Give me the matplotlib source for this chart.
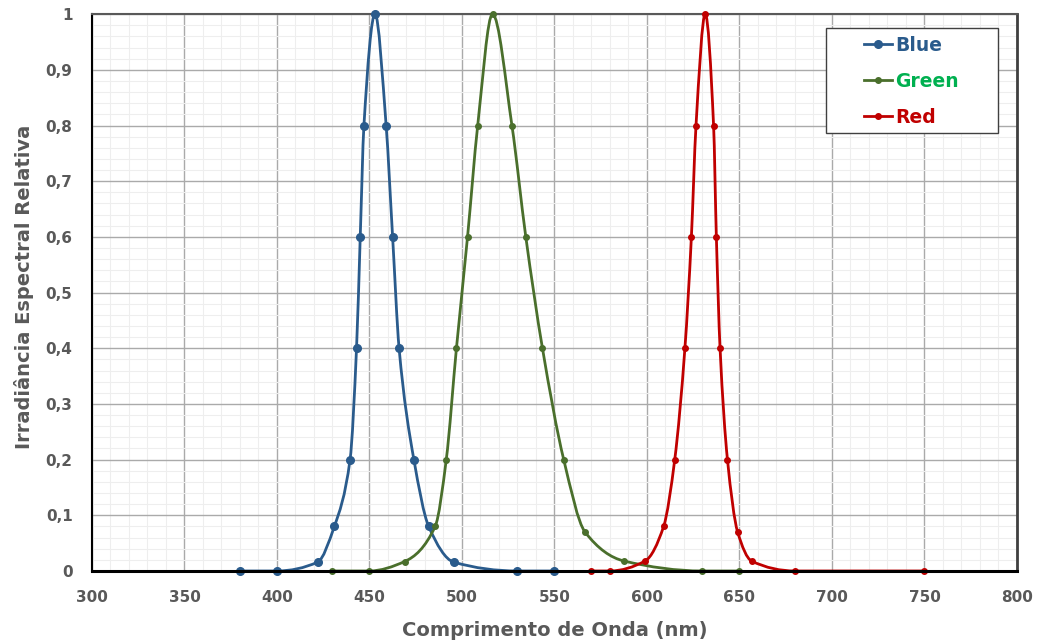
import numpy as np
import matplotlib
matplotlib.use("Agg")
import matplotlib.pyplot as plt
from matplotlib.path import Path
from matplotlib.patches import PathPatch, Rectangle
from matplotlib.lines import Line2D
from matplotlib.ticker import MultipleLocator, FuncFormatter

# data (wavelength nm, relative irradiance)
blue_x = [380, 400, 422, 431, 439.5, 443, 445, 447, 453, 459, 462.5, 466, 474, 482, 495.5, 530, 550]
blue_y = [0, 0, 0.016, 0.08, 0.2, 0.4, 0.6, 0.8, 1.0, 0.8, 0.6, 0.4, 0.2, 0.08, 0.016, 0, 0]

green_x = [430, 450, 469, 485.5, 491.5, 497, 503, 508.5, 516.5, 527, 534.5, 543.5, 555, 566.5, 587.5, 630, 650]
green_y = [0, 0, 0.017, 0.08, 0.2, 0.4, 0.6, 0.8, 1.0, 0.8, 0.6, 0.4, 0.2, 0.07, 0.018, 0, 0]

red_x = [570, 580, 599, 609, 615, 620.5, 624, 626.5, 631.5, 636, 637.5, 639.5, 643.5, 649, 656.5, 680, 750]
red_y = [0, 0, 0.018, 0.08, 0.2, 0.4, 0.6, 0.8, 1.0, 0.8, 0.6, 0.4, 0.2, 0.07, 0.018, 0, 0]

series = [
    ("Blue", blue_x, blue_y, "#2a5b8c", "#2a5b8c", 5.5),
    ("Green", green_x, green_y, "#4a6f2c", "#00b050", 4.0),
    ("Red", red_x, red_y, "#c00000", "#c00000", 4.0),
]

txt_gray = "#595959"


def pchip_slopes(x, y):
    x = np.asarray(x, float)
    y = np.asarray(y, float)
    h = np.diff(x)
    d = np.diff(y) / h
    n = len(x)
    m = np.zeros(n)
    for i in range(1, n - 1):
        if d[i - 1] * d[i] > 0:
            w1 = 2 * h[i] + h[i - 1]
            w2 = h[i] + 2 * h[i - 1]
            m[i] = (w1 + w2) / (w1 / d[i - 1] + w2 / d[i])
    return m


def smooth_path(x, y):
    # monotone cubic through the points, drawn as bezier segments
    m = pchip_slopes(x, y)
    verts = [(x[0], y[0])]
    codes = [Path.MOVETO]
    for i in range(len(x) - 1):
        h = (x[i + 1] - x[i]) / 3.0
        verts += [(x[i] + h, y[i] + m[i] * h),
                  (x[i + 1] - h, y[i + 1] - m[i + 1] * h),
                  (x[i + 1], y[i + 1])]
        codes += [Path.CURVE4] * 3
    return Path(verts, codes)


fig = plt.figure(figsize=(10.37, 6.43), dpi=100)
ax = fig.add_axes([0.0887, 0.112, 0.892, 0.866])

ax.set_xlim(300, 800)
ax.set_ylim(0, 1)
ax.xaxis.set_major_locator(MultipleLocator(50))
ax.xaxis.set_minor_locator(MultipleLocator(10))
ax.yaxis.set_major_locator(MultipleLocator(0.1))
ax.yaxis.set_minor_locator(MultipleLocator(0.02))
ax.grid(which="minor", color="#eeeeee", lw=0.8)
ax.grid(which="major", color="#aaaaaa", lw=1.0)
ax.set_axisbelow(True)


def yfmt(v, pos):
    s = "%.1f" % v
    if s in ("0.0", "1.0"):
        return s[0]
    return s.replace(".", ",")


ax.yaxis.set_major_formatter(FuncFormatter(yfmt))
ax.tick_params(which="both", length=0)
ax.tick_params(axis="x", pad=14)
ax.tick_params(axis="y", pad=14)
for lab in ax.get_xticklabels() + ax.get_yticklabels():
    lab.set_fontweight("bold")
    lab.set_color(txt_gray)
    lab.set_fontsize(11)

ax.spines["left"].set_color("black")
ax.spines["left"].set_linewidth(1.5)
ax.spines["bottom"].set_color("black")
ax.spines["bottom"].set_linewidth(2.2)
ax.spines["bottom"].set_zorder(5)
ax.spines["top"].set_color("#595959")
ax.spines["top"].set_linewidth(1.5)
ax.spines["right"].set_color("#404040")
ax.spines["right"].set_linewidth(2)

handles = []
for name, x, y, col, tcol, ms in series:
    patch = PathPatch(smooth_path(x, y), fill=False, edgecolor=col, lw=2.0,
                      transform=ax.transData, zorder=3, capstyle="round")
    ax.add_patch(patch)
    ax.plot(x, y, ls="none", marker="o", ms=ms, color=col, zorder=4, clip_on=False)
    handles.append(Line2D([0], [0], color=col, lw=2.0, marker="o", ms=ms))

# legend box (excel style, wide left padding)
W, H = 1037.0, 643.0
box = Rectangle((826 / W, 1 - 133 / H), 172 / W, 105 / H, transform=fig.transFigure,
                facecolor="white", edgecolor="#404040", lw=1.0, zorder=6)
fig.patches.append(box)
leg = fig.legend(handles, [s[0] for s in series], loc="upper left",
                 bbox_to_anchor=(849 / W, 1 - 21 / H), frameon=False,
                 handlelength=1.5, handletextpad=0.15, borderpad=0.3,
                 labelspacing=0.9, prop={"weight": "bold", "size": 13.5})
leg.set_zorder(7)
for t, s in zip(leg.get_texts(), series):
    t.set_color(s[4])

ax.set_xlabel("Comprimento de Onda (nm)", fontsize=14, fontweight="bold",
              color=txt_gray, labelpad=11)
ax.set_ylabel("Irradiância Espectral Relativa", fontsize=14, fontweight="bold",
              color=txt_gray)
ax.yaxis.set_label_coords(-0.063, 0.51)

fig.savefig("out.png", dpi=100, facecolor="white")
